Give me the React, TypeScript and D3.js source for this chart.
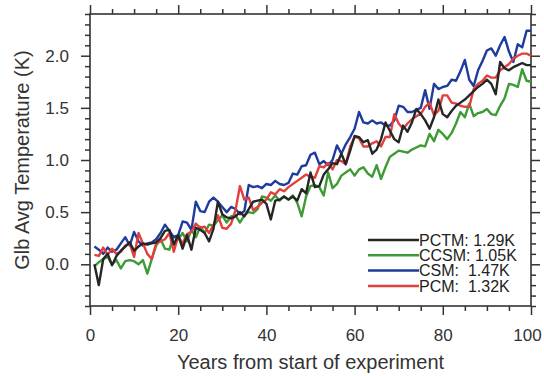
import React, { useRef, useEffect } from 'react';
import * as d3 from 'd3';

// years 1..100 of each run (K)
const years = d3.range(1, 101);

const pctm = [
	0.0, -0.2, 0.05, 0.1, -0.01, 0.08, 0.13, 0.17, 0.21, 0.13,
	0.17, 0.2, 0.19, 0.2, 0.21, 0.25, 0.32, 0.33, 0.19, 0.28,
	0.15, 0.28, 0.14, 0.35, 0.33, 0.3, 0.22, 0.34, 0.6, 0.48,
	0.45, 0.44, 0.46, 0.5, 0.46, 0.53, 0.6, 0.61, 0.62, 0.58,
	0.43, 0.61, 0.62, 0.65, 0.62, 0.65, 0.61, 0.72, 0.68, 0.88,
	0.74, 0.75, 0.86, 0.91, 0.97, 0.96, 1.06, 0.96, 1.09, 1.23,
	1.22, 1.17, 1.19, 1.06, 1.1, 1.2, 1.36, 1.28, 1.2, 1.17,
	1.33, 1.27, 1.36, 1.49, 1.44, 1.38, 1.3, 1.41, 1.58, 1.44,
	1.41, 1.47, 1.52, 1.55, 1.58, 1.62, 1.66, 1.7, 1.73, 1.77,
	1.73, 1.63, 1.94, 1.88, 1.86, 1.89, 1.91, 1.93, 1.91, 1.91,
];

const ccsm = [
	-0.02, 0.02, 0.05, 0.07, 0.0, 0.04, -0.04, 0.03, 0.04, 0.03,
	0.0, 0.04, -0.09, 0.05, 0.18, 0.24, 0.15, 0.14, 0.27, 0.24,
	0.3, 0.22, 0.33, 0.26, 0.36, 0.3, 0.38, 0.37, 0.42, 0.47,
	0.4, 0.46, 0.47, 0.4, 0.47, 0.5, 0.49, 0.53, 0.65, 0.64,
	0.61, 0.66, 0.61, 0.65, 0.62, 0.66, 0.59, 0.46, 0.65, 0.75,
	0.76, 0.74, 0.66, 0.88, 0.73, 0.77, 0.85, 0.88, 0.91, 0.85,
	0.91, 0.93, 0.87, 0.84, 0.95, 0.82, 0.93, 1.03, 1.06, 1.09,
	1.08, 1.07, 1.1, 1.12, 1.14, 1.13, 1.25, 1.18, 1.29, 1.25,
	1.2, 1.26, 1.35, 1.46, 1.41, 1.54, 1.42, 1.45, 1.46, 1.49,
	1.44, 1.43, 1.52, 1.59, 1.73, 1.72, 1.7, 1.87, 1.76, 1.75,
];

const csm = [
	0.17, 0.14, 0.1, 0.16, 0.12, 0.14, 0.2, 0.26, 0.18, 0.31,
	0.22, 0.18, 0.2, 0.21, 0.24, 0.3, 0.38, 0.32, 0.26, 0.28,
	0.41, 0.4, 0.33, 0.6, 0.51, 0.5, 0.6, 0.64, 0.6, 0.55,
	0.5, 0.55, 0.53, 0.48, 0.51, 0.76, 0.74, 0.75, 0.73, 0.77,
	0.76, 0.8, 0.77, 0.76, 0.78, 0.87, 0.86, 0.94, 0.95, 1.05,
	1.07, 0.96, 0.99, 0.95, 1.0, 1.14, 1.06, 1.15, 1.22, 1.3,
	1.46, 1.36, 1.35, 1.38, 1.35, 1.36, 1.33, 1.33, 1.38, 1.52,
	1.51, 1.46, 1.46, 1.48, 1.5, 1.67, 1.49, 1.73, 1.68, 1.7,
	1.71, 1.77, 1.76, 1.85, 1.96, 1.77, 1.71, 1.86, 1.95, 2.05,
	2.07, 2.0, 2.1, 2.18, 2.04, 1.94, 2.11, 2.08, 2.24, 2.24,
];

const pcm = [
	0.09, 0.08, 0.16, 0.09, 0.15, 0.1, 0.12, 0.18, 0.2, 0.07,
	0.3, 0.2, 0.1, 0.05, 0.2, 0.22, 0.24, 0.3, 0.12, 0.27,
	0.2, 0.29, 0.31, 0.39, 0.35, 0.36, 0.3, 0.38, 0.47, 0.35,
	0.34, 0.39, 0.52, 0.75, 0.62, 0.64, 0.52, 0.55, 0.59, 0.62,
	0.69, 0.67, 0.72, 0.7, 0.74, 0.77, 0.8, 0.83, 0.86, 0.84,
	0.83, 0.94, 0.93, 0.97, 0.91, 1.0, 0.99, 0.96, 1.13, 1.22,
	1.21, 1.13, 1.13, 1.16, 1.18, 1.13, 1.22, 1.22, 1.44, 1.35,
	1.3, 1.35, 1.39, 1.42, 1.44, 1.51, 1.55, 1.43, 1.47, 1.62,
	1.62, 1.55, 1.54, 1.52, 1.51, 1.51, 1.68, 1.73, 1.76, 1.81,
	1.79, 1.79, 1.86, 1.89, 1.92, 1.97, 2.0, 2.02, 2.02, 2.0,
];

const seriesNames = ['PCTM', 'CCSM', 'CSM', 'PCM'];
const legendLabels = ['PCTM: 1.29K', 'CCSM: 1.05K', 'CSM:  1.47K', 'PCM:  1.32K'];
const xTicks = [0, 20, 40, 60, 80, 100];
const yTicks = [0, 0.5, 1.0, 1.5, 2.0];

const colors: Record<string, string> = {
	PCTM: '#262626',
	CCSM: '#3e9a34',
	CSM: '#1d3c9e',
	PCM: '#e2403e',
};

const W = 544;
const H = 376;
const FONT = 'Liberation Sans, Arial, Helvetica, sans-serif';

function App() {
	const svgRef = useRef<SVGSVGElement>(null);

	useEffect(() => {
		const svg = d3.select(svgRef.current);
		svg.selectAll('*').remove();

		const left = 90, right = 531, top = 14, bottom = 306;
		const x = d3.scaleLinear().domain([0, 100]).range([left, right]);
		const y = d3.scaleLinear().domain([-0.4, 2.4]).range([bottom, top]);

		const axisColor = '#333';
		const minorX = d3.range(0, 101, 5).filter((v) => v % 20 !== 0);
		const minorY = d3.range(-4, 25).filter((v) => v % 5 !== 0).map((v) => v / 10);

		const addAxis = (axis: any, transform: string) => {
			const g = svg.append('g').attr('transform', transform).call(axis);
			g.select('.domain').remove();
			g.selectAll('line').attr('stroke', axisColor).attr('stroke-width', 1.5);
			return g;
		};

		// minor + major ticks, outward on all four sides
		addAxis(d3.axisBottom(x).tickValues(minorX).tickSize(5).tickFormat(() => ''), `translate(0,${bottom})`);
		addAxis(d3.axisTop(x).tickValues(minorX).tickSize(5).tickFormat(() => ''), `translate(0,${top})`);
		addAxis(d3.axisTop(x).tickValues(xTicks).tickSize(9).tickFormat(() => ''), `translate(0,${top})`);
		addAxis(d3.axisLeft(y).tickValues(minorY).tickSize(5).tickFormat(() => ''), `translate(${left},0)`);
		addAxis(d3.axisRight(y).tickValues(minorY).tickSize(5).tickFormat(() => ''), `translate(${right},0)`);
		addAxis(d3.axisRight(y).tickValues(yTicks).tickSize(9).tickFormat(() => ''), `translate(${right},0)`);

		const xAxis = addAxis(
			d3.axisBottom(x).tickValues(xTicks).tickSize(9).tickPadding(14).tickFormat(d3.format('d')),
			`translate(0,${bottom})`
		);
		xAxis.selectAll('text')
			.attr('font-size', 17).attr('font-family', FONT).attr('fill', axisColor)
			.attr('dx', (d: any) => (d === 100 ? -4 : 0));

		const yAxis = addAxis(
			d3.axisLeft(y).tickValues(yTicks).tickSize(9).tickPadding(12).tickFormat(d3.format('.1f')),
			`translate(${left},0)`
		);
		yAxis.selectAll('text').attr('font-size', 17).attr('font-family', FONT).attr('fill', axisColor);

		// frame
		svg.append('rect')
			.attr('x', left).attr('y', top)
			.attr('width', right - left).attr('height', bottom - top)
			.attr('fill', 'none').attr('stroke', axisColor).attr('stroke-width', 1.6);

		const data: Record<string, number[]> = { PCTM: pctm, CCSM: ccsm, CSM: csm, PCM: pcm };
		const lineGen = d3.line<number>()
			.x((_, i) => x(years[i]))
			.y((d) => y(d));

		['CCSM', 'CSM', 'PCM', 'PCTM'].forEach((name) => {
			svg.append('path')
				.datum(data[name])
				.attr('fill', 'none')
				.attr('stroke', colors[name])
				.attr('stroke-width', 2.4)
				.attr('stroke-linejoin', 'round')
				.attr('d', lineGen);
		});

		// legend
		const leg = svg.append('g');
		seriesNames.forEach((name, i) => {
			const cy = 240 + i * 15.3;
			leg.append('line')
				.attr('x1', 368).attr('x2', 419)
				.attr('y1', cy).attr('y2', cy)
				.attr('stroke', colors[name]).attr('stroke-width', 2.5);
			leg.append('text')
				.attr('x', 419).attr('y', cy + 5.6)
				.attr('font-size', 16).attr('font-family', FONT)
				.attr('fill', '#222')
				.style('white-space', 'pre')
				.text(legendLabels[i]);
		});

		// titles
		svg.append('text')
			.attr('x', (left + right) / 2).attr('y', 369)
			.attr('text-anchor', 'middle')
			.attr('font-size', 20).attr('font-family', FONT).attr('fill', '#333')
			.text('Years from start of experiment');

		svg.append('text')
			.attr('transform', `translate(29,${(top + bottom) / 2}) rotate(-90)`)
			.attr('text-anchor', 'middle')
			.attr('font-size', 20).attr('font-family', FONT).attr('fill', '#333')
			.text('Glb Avg Temperature (K)');
	}, []);

	return (
		<svg
			ref={svgRef}
			width={W}
			height={H}
			style={{ position: 'absolute', left: 0, top: 0, background: '#fff' }}
		/>
	);
}

export default App;
